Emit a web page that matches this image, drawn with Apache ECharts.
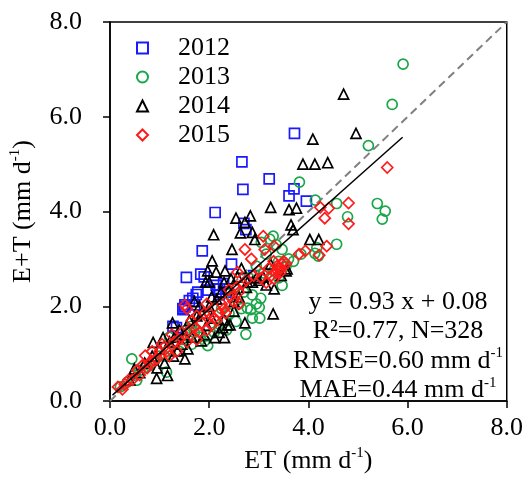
<!DOCTYPE html>
<html>
<head>
<meta charset="utf-8">
<script src="https://cdn.jsdelivr.net/npm/echarts@6/dist/echarts.min.js"></script>
<style>
html,body{margin:0;padding:0;background:#fff;}
#chart{width:526px;height:481px;}
</style>
</head>
<body>
<div id="chart"></div>
<script>
// ---- data ----
const seriesNames = ['2012', '2013', '2014', '2015'];
const xTicks = [0, 2, 4, 6, 8];
const fitSlope = 0.93;
const fitIntercept = 0.08;
const fitXRange = [0.05, 5.9];
const oneToOneRange = [0, 8];

const data2012 = [[3.72,5.65],[2.66,5.05],[2.68,4.47],[3.21,4.69],[3.71,4.48],[3.61,4.33],[3.96,4.22],[2.12,3.98],[2.70,3.75],[2.74,3.62],[1.86,3.17],[2.45,2.89],[1.54,2.61],[1.83,2.68],[1.90,2.62],[2.14,2.44],[2.17,2.37],[2.21,2.37],[1.77,2.30],[1.74,2.25],[1.97,2.34],[2.34,2.30],[2.20,2.24],[1.67,2.17],[1.60,2.12],[1.51,2.03],[1.71,2.03],[1.47,1.93],[1.51,1.99],[1.47,1.95],[1.34,1.55],[1.27,1.58],[2.29,2.48],[2.90,2.65]];

const data2013 = [[5.91,7.11],[5.69,6.26],[5.21,5.39],[3.82,4.62],[4.14,4.24],[4.57,4.17],[5.39,4.17],[5.55,4.01],[5.49,3.84],[4.79,3.89],[4.57,3.31],[4.17,3.24],[4.20,3.06],[4.13,3.12],[3.29,3.48],[3.22,3.42],[3.47,3.20],[3.35,3.30],[3.05,3.35],[3.15,3.10],[3.40,2.95],[3.47,2.44],[3.40,2.60],[3.30,2.75],[3.04,2.17],[2.87,2.24],[3.01,1.98],[2.84,1.93],[2.77,1.96],[3.02,1.75],[2.87,1.75],[2.74,1.41],[2.54,1.68],[2.47,2.20],[2.60,2.05],[2.70,2.30],[2.40,1.85],[2.30,1.70],[2.20,1.55],[2.10,1.45],[1.97,1.17],[1.91,1.27],[2.00,1.40],[1.80,1.35],[1.64,1.58],[1.55,1.50],[1.70,1.45],[1.45,1.30],[1.30,1.20],[1.40,1.05],[1.20,1.10],[1.10,0.95],[1.00,0.95],[0.90,0.85],[1.14,0.61],[0.80,0.75],[0.70,0.70],[0.44,0.89],[0.60,0.65],[0.54,0.44],[0.35,0.40],[0.21,0.30],[0.50,0.55],[2.95,2.85],[3.10,2.70],[2.80,2.60],[2.50,2.40],[3.60,3.00],[3.55,2.85],[3.70,2.95],[3.85,3.10],[2.65,1.95],[2.95,2.05],[2.35,1.50],[2.25,1.95],[1.20,1.35],[1.65,1.20]];

const data2014 = [[4.71,6.48],[4.96,5.65],[4.09,5.53],[3.89,5.00],[4.13,5.00],[4.39,5.03],[3.24,4.09],[3.61,4.04],[3.76,4.07],[3.65,3.72],[3.69,3.62],[2.54,3.86],[2.83,3.91],[2.72,3.77],[2.63,3.55],[2.87,3.56],[2.92,3.41],[2.09,3.51],[2.46,3.20],[2.06,2.96],[1.97,2.75],[2.14,2.72],[2.32,2.75],[2.44,2.58],[2.57,2.62],[1.93,2.51],[2.00,2.51],[4.03,3.41],[4.21,3.41],[3.24,2.89],[3.57,2.79],[3.31,2.37],[3.09,2.62],[3.29,1.84],[2.72,1.65],[2.37,1.61],[2.42,1.61],[2.30,1.72],[2.11,1.34],[2.31,1.34],[2.20,1.45],[1.26,1.65],[1.07,1.34],[0.87,1.24],[1.51,0.89],[1.16,0.54],[0.94,0.48],[0.49,0.68],[1.36,1.06],[1.57,1.10],[1.84,1.27],[1.90,1.40],[2.27,1.55],[2.50,1.90],[2.75,2.40],[2.77,2.51],[2.87,2.51],[2.95,2.60],[2.24,2.30],[2.15,2.15],[2.30,2.50],[2.05,2.20],[1.80,2.00],[1.75,1.80],[1.60,1.70],[1.40,1.50],[1.30,1.35],[1.20,1.25],[1.00,1.10],[0.85,0.95],[0.70,0.80],[0.60,0.60],[0.40,0.45],[1.45,1.20],[1.65,1.35],[1.95,1.60],[2.05,1.75],[2.60,2.20],[2.50,2.10],[2.40,2.35],[1.10,0.80],[0.95,0.70],[1.50,1.40],[1.85,1.85],[1.70,2.10],[2.00,2.00],[2.65,2.80],[3.00,2.55],[3.15,2.45],[3.45,2.65],[3.55,2.75],[1.28,0.95]];

const data2015 = [[5.59,4.93],[4.81,4.18],[4.81,3.74],[4.24,4.09],[4.41,4.07],[4.33,3.86],[4.37,3.27],[4.22,3.08],[3.94,3.17],[3.81,3.10],[3.09,3.48],[3.31,3.27],[3.12,3.20],[2.72,3.20],[2.85,3.00],[3.47,2.89],[3.44,2.72],[3.40,2.80],[3.31,2.58],[3.37,2.85],[3.50,2.95],[3.30,2.95],[3.20,2.80],[3.00,2.75],[2.57,2.72],[2.67,2.48],[2.60,2.30],[2.49,2.10],[2.42,2.20],[2.33,1.86],[2.20,1.86],[2.10,1.75],[1.95,2.05],[1.51,2.03],[1.55,1.95],[1.75,1.80],[1.85,1.65],[1.95,1.50],[2.05,1.60],[2.15,1.70],[1.70,1.55],[1.60,1.50],[1.45,1.45],[1.40,1.30],[1.30,1.25],[1.25,1.40],[1.10,1.15],[1.00,1.05],[1.05,1.20],[0.90,0.85],[0.85,1.05],[0.71,0.96],[0.75,0.70],[0.60,0.55],[0.55,0.65],[0.45,0.45],[0.37,0.44],[0.30,0.35],[0.16,0.30],[0.25,0.25],[1.20,0.95],[1.35,1.05],[1.55,1.25],[1.75,1.30],[1.80,1.45],[2.25,2.05],[2.40,2.35],[2.55,2.40],[2.75,2.55],[2.90,2.65],[3.05,2.60],[3.15,2.50],[3.25,2.65],[3.35,2.70],[3.45,2.80],[3.55,2.90],[2.30,1.95],[1.90,1.85],[1.65,1.70],[1.15,1.05],[0.95,0.90],[0.80,0.80],[0.65,0.75],[2.00,1.85],[2.60,2.05]];

const statLines = ['y = 0.93 x + 0.08', 'R\u00B2=0.77, N=328', 'RMSE=0.60 mm d{sup|-1}', 'MAE=0.44 mm d{sup|-1}'];

// ---- chart ----
const FONT = '"Liberation Serif", "Times New Roman", serif';
const colors = ['#1a1aff', '#1aa64a', '#000000', '#ff1a1a'];
const symbols = ['rect', 'circle', 'triangle', 'diamond'];
const sizes = [10, 10, 10, 11];
const allData = [data2012, data2013, data2014, data2015];

const supRich = {
  sup: {fontSize: 15, fontFamily: FONT, color: '#000', verticalAlign: 'top', lineHeight: 30, padding: [0, 0, 0, 0]}
};

const fitLine = fitXRange.map(x => [x, fitSlope * x + fitIntercept]);
const idLine = oneToOneRange.map(v => [v, v]);

const series = allData.map((d, i) => ({
  name: seriesNames[i],
  type: 'scatter',
  data: d,
  symbol: symbols[i],
  symbolSize: sizes[i],
  itemStyle: {color: 'transparent', borderColor: colors[i], borderWidth: 1.7, opacity: 1},
  z: 3 + i
}));
series.push({
  type: 'line', data: idLine, symbol: 'none', silent: true,
  lineStyle: {color: '#808080', width: 2, type: [8, 5]}, z: 2
});
series.push({
  type: 'line', data: fitLine, symbol: 'none', silent: true,
  lineStyle: {color: '#000', width: 1.5}, z: 10
});

const axisCommon = {
  type: 'value', min: 0, max: 8, interval: 2,
  axisLine: {show: true, lineStyle: {color: '#000', width: 1.5}},
  axisTick: {show: true, length: 7, lineStyle: {color: '#000', width: 1.5}},
  splitLine: {show: false},
  nameLocation: 'middle'
};

const chart = echarts.init(document.getElementById('chart'), null, {renderer: 'canvas'});
chart.setOption({
  animation: false,
  backgroundColor: '#fff',
  grid: {left: 108, right: 18, top: 22, bottom: 73, show: true, borderColor: '#000', borderWidth: 1.5, containLabel: false},
  legend: {
    data: seriesNames,
    orient: 'vertical',
    left: 131, top: 30,
    itemWidth: 11, itemHeight: 11,
    itemGap: 3,
    textStyle: {fontFamily: FONT, fontSize: 26, color: '#000', lineHeight: 26, padding: [0, 0, 0, 25]}
  },
  xAxis: Object.assign({}, axisCommon, {
    axisLabel: {formatter: v => v.toFixed(1), fontFamily: FONT, fontSize: 26, color: '#000', margin: 14},
    name: 'ET (mm d{sup|-1})', nameGap: 44,
    nameTextStyle: {fontFamily: FONT, fontSize: 26, color: '#000', lineHeight: 30, rich: supRich}
  }),
  yAxis: Object.assign({}, axisCommon, {
    axisLabel: {formatter: v => v.toFixed(1), fontFamily: FONT, fontSize: 26, color: '#000', margin: 28},
    name: 'E+T (mm d{sup|-1})', nameGap: 72,
    nameTextStyle: {fontFamily: FONT, fontSize: 26, color: '#000', lineHeight: 30, rich: supRich}
  }),
  graphic: statLines.map((t, i) => ({
    type: 'text',
    z: 100,
    style: {
      text: t, x: 398, y: 287 + i * 29.5, align: 'center', verticalAlign: 'top',
      fontFamily: FONT, fontSize: 26, lineHeight: 30, fill: '#000', rich: supRich
    }
  })),
  series: series
});
</script>
</body>
</html>
